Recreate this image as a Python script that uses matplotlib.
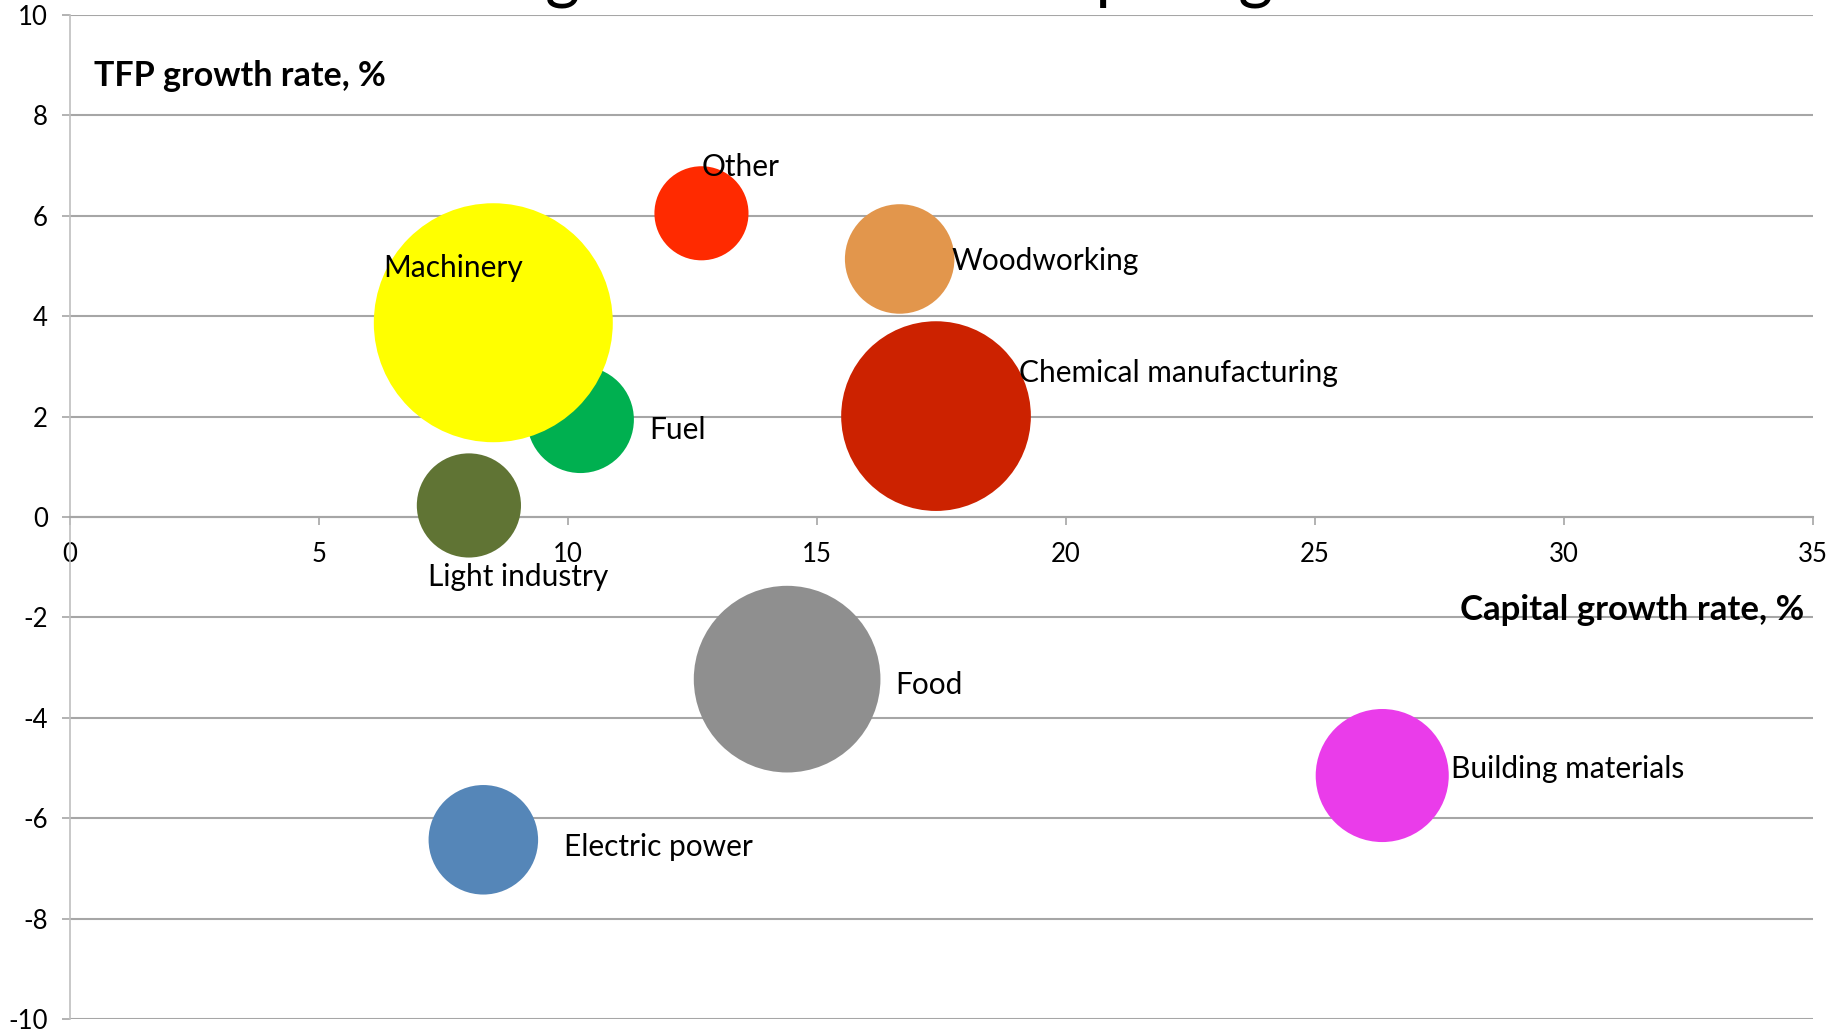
"""Bubble chart: TFP growth vs capital growth by industry (bubble = relative size)."""
import matplotlib.pyplot as plt
import numpy as np

# --- data ---
industries = ["Other", "Woodworking", "Fuel", "Machinery", "Chemical manufacturing",
              "Light industry", "Food", "Building materials", "Electric power"]
capital_growth = [12.68, 16.66, 10.25, 8.50, 17.39, 8.01, 14.40, 26.35, 8.30]
tfp_growth = [6.05, 5.14, 1.94, 3.87, 2.01, 0.23, -3.23, -5.15, -6.43]
bubble_size = [15.5, 21, 20, 100, 63, 19, 61, 31, 21]

colors = ["#FF2A00", "#E2964C", "#00B050", "#FFFF00", "#CC2200",
          "#607434", "#8F8F8F", "#EA3CEA", "#5586B8"]
# label offsets from bubble centre, in pixels (left edge of text, vertical centre)
label_offsets = [(0, 46), (52, -2), (69, -10), (-110, 55), (83, 43),
                 (-41, -72), (108, -6), (69, 7), (81, -7)]

plt.rcParams["font.family"] = ["Lato", "DejaVu Sans"]
plt.rcParams["axes.unicode_minus"] = False

fig = plt.figure(figsize=(18.41, 10.34), dpi=100)
ax = fig.add_axes([70 / 1841, 15 / 1034, 1743 / 1841, 1004 / 1034])

max_diam_pt = 239 * 72 / 100
sizes = np.array(bubble_size) / max(bubble_size) * max_diam_pt ** 2
ax.scatter(capital_growth, tfp_growth, s=sizes, c=colors, edgecolors="none",
           zorder=3, clip_on=False)

for name, x, y, (dx, dy) in zip(industries, capital_growth, tfp_growth, label_offsets):
    ax.annotate(name, xy=(x, y), xytext=(dx, dy), textcoords="offset pixels",
                ha="left", va="center", fontsize=21.5, color="black", zorder=5)

ax.set_xlim(0, 35)
ax.set_ylim(-10, 10)
ax.set_xticks(np.arange(0, 36, 5))
ax.set_yticks(np.arange(-10, 11, 2))

grid_c = "#A6A6A6"
ax.yaxis.grid(True, color=grid_c, linewidth=1.5, zorder=0)
ax.set_axisbelow(True)
for s in ["top", "right"]:
    ax.spines[s].set_visible(False)
ax.spines["bottom"].set_position(("data", 0))
ax.spines["bottom"].set_color(grid_c)
ax.spines["bottom"].set_linewidth(1.5)
ax.spines["left"].set_color("#BFBFBF")
ax.spines["left"].set_linewidth(1.2)
ax.tick_params(axis="x", direction="out", length=6, width=1.2, color=grid_c,
               labelsize=18.5, pad=12)
ax.tick_params(axis="y", direction="out", length=6, width=1.2, color=grid_c,
               labelsize=18.5, pad=10)

ax.text(94 / 1841, 1 - 76 / 1034, "TFP growth rate, %", transform=fig.transFigure,
        ha="left", va="center", fontsize=24.5, fontweight="bold")
ax.text(1804 / 1841, 1 - 610 / 1034, "Capital growth rate, %", transform=fig.transFigure,
        ha="right", va="center", fontsize=25, fontweight="bold")

# chart title, mostly cropped off the top edge in the original
fig.text(0.505, 1.0 + 4 / 1034, "TFP growth rate and capital growth", ha="center",
         va="baseline", fontsize=48, transform=fig.transFigure)

fig.savefig("out.png", dpi=100)
